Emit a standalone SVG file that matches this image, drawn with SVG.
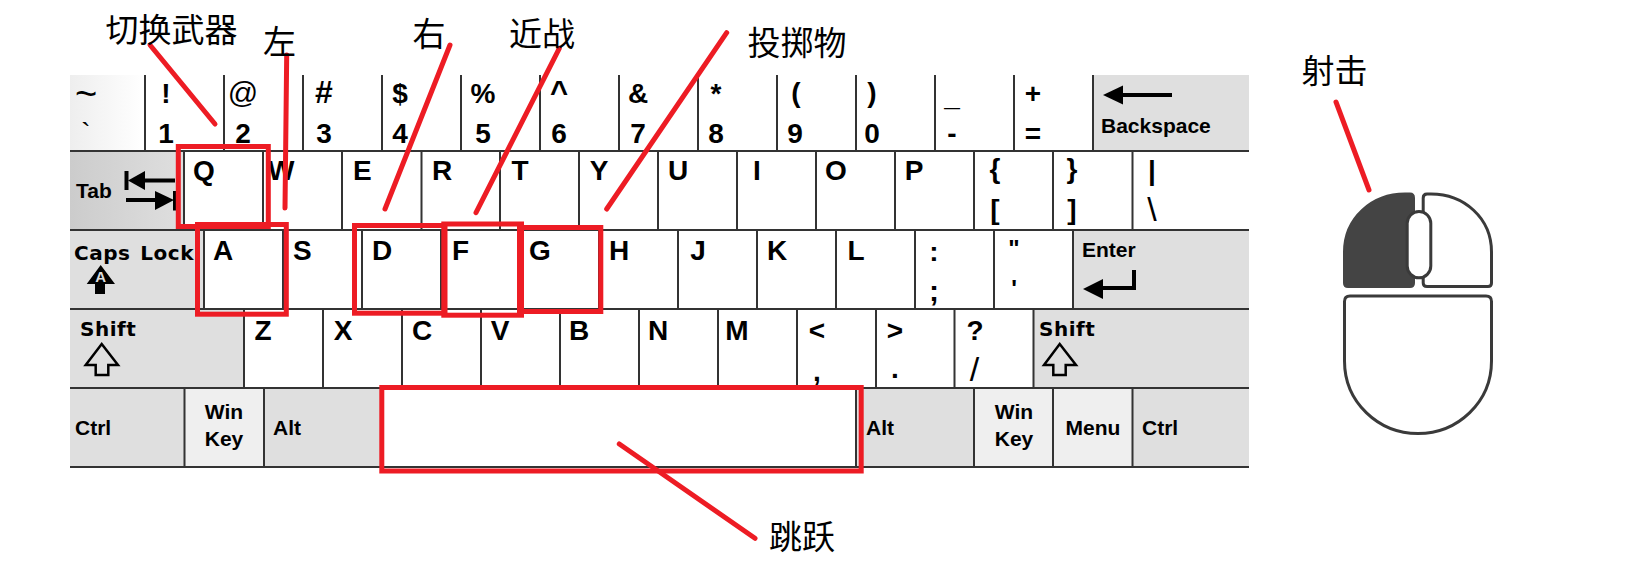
<svg xmlns="http://www.w3.org/2000/svg" width="1650" height="569" viewBox="0 0 1650 569">
<style>
text{font-family:"Liberation Sans",Arial,sans-serif;fill:#000}
.k{font-size:28px;font-weight:700;text-anchor:middle}
.l{font-size:28px;font-weight:700}
.t{font-size:21px;font-weight:700}
.c{text-anchor:middle}
.d{font-family:"DejaVu Sans",sans-serif;font-size:20px;font-weight:700;letter-spacing:.5px}
.thin{font-weight:400}
.zh{font-family:"Noto Sans CJK SC",sans-serif;font-size:33px;text-anchor:middle;fill:#000}
.m{fill:#dfdfdf}
.w{fill:#efefef}
.grid{fill:none;stroke:#333;stroke-width:2}
.red{fill:none;stroke:#ed1c24;stroke-width:5}
.lead{fill:none;stroke:#ed1c24;stroke-width:5;stroke-linecap:round}
.btn{fill:#fff;stroke:#3a3a3a;stroke-width:3;stroke-linejoin:round}
.ar{fill:#000}
.ol{fill:none;stroke:#000;stroke-width:2.500}
.ln{fill:none;stroke:#000;stroke-width:4}
</style>
<defs>
<linearGradient id="gTilde"><stop offset="0" stop-color="#eee"/><stop offset="1" stop-color="#fff"/></linearGradient>
<linearGradient id="gTab"><stop offset="0" stop-color="#ccc"/><stop offset="1" stop-color="#dfdfdf"/></linearGradient>
</defs>
<rect width="1650" height="569" fill="#fff"/>
<g id="keyboard-fills">
<rect x="70" y="75" width="75" height="76" fill="url(#gTilde)"/>
<rect x="1093" y="75" width="156" height="76" class="m"/>
<rect x="70" y="151" width="114" height="79" fill="url(#gTab)"/>
<rect x="70" y="230" width="134" height="79" class="m"/>
<rect x="1073" y="230" width="176" height="79" class="m"/>
<rect x="70" y="309" width="174" height="79" class="m"/>
<rect x="1033" y="309" width="216" height="79" class="m"/>
<rect x="70" y="388" width="114" height="79" class="m"/>
<rect x="184" y="388" width="80" height="79" class="w"/>
<rect x="264" y="388" width="116" height="79" class="m"/>
<rect x="856" y="388" width="118" height="79" class="m"/>
<rect x="974" y="388" width="158" height="79" class="w"/>
<rect x="1133" y="388" width="116" height="79" class="m"/>
</g>
<path id="keyboard-grid" class="grid" d="M70 151H1249M70 230H1249M70 309H1249M70 388H1249M70 467H1249
M145 75V151M224 75V151M303 75V151M382 75V151M461 75V151M540 75V151M619 75V151M698 75V151M777 75V151M856 75V151M935 75V151M1014 75V151M1093 75V151
M184 151V230M263 151V230M342 151V230M421.500 151V230M500 151V230M579 151V230M658 151V230M737 151V230M816 151V230M895 151V230M974 151V230M1053 151V230M1132.500 151V230
M204 230V309M283 230V309M362 230V309M441 230V309M520 230V309M599 230V309M678 230V309M757 230V309M836 230V309M915 230V309M994 230V309M1073 230V309
M244 309V388M323 309V388M402 309V388M481 309V388M560 309V388M639 309V388M718 309V388M797 309V388M876 309V388M954.500 309V388M1033.500 309V388
M184.500 388V467M264 388V467M856 388V467M974 388V467M1053 388V467M1132.500 388V467"/>
<g id="key-tilde"><text x="86" y="107" class="c thin" font-size="38">~</text><text x="86" y="142" class="c thin" font-size="28">`</text></g>
<g id="key-1"><text x="166" y="103" class="k">!</text><text x="166" y="143" class="k">1</text></g>
<g id="key-2"><text x="243" y="103" class="k thin" style="font-size:30px">@</text><text x="243" y="143" class="k">2</text></g>
<g id="key-3"><text x="324" y="103" class="k" style="font-size:32px">#</text><text x="324" y="143" class="k">3</text></g>
<g id="key-4"><text x="400" y="103" class="k">$</text><text x="400" y="143" class="k">4</text></g>
<g id="key-5"><text x="483" y="103" class="k">%</text><text x="483" y="143" class="k">5</text></g>
<g id="key-6"><text x="559" y="103" class="k" style="font-size:31px">^</text><text x="559" y="143" class="k">6</text></g>
<g id="key-7"><text x="638" y="103" class="k">&amp;</text><text x="638" y="143" class="k">7</text></g>
<g id="key-8"><text x="716" y="103" class="k">*</text><text x="716" y="143" class="k">8</text></g>
<g id="key-9"><text x="796" y="102" class="k">(</text><text x="795" y="143" class="k">9</text></g>
<g id="key-0"><text x="872" y="102" class="k">)</text><text x="872" y="143" class="k">0</text></g>
<g id="key-minus"><text x="952" y="106" class="k">_</text><text x="952" y="143" class="k">-</text></g>
<g id="key-equal"><text x="1033" y="103" class="k">+</text><text x="1033" y="143" class="k">=</text></g>
<g id="key-backspace"><path class="ar" d="M1103 95L1123 85.500V104.500Z"/><path class="ln" d="M1120 95H1172"/><text x="1101" y="133" class="t">Backspace</text></g>
<g id="key-tab"><text x="76" y="198" class="t">Tab</text><path class="ar" d="M128 180.500L145 171V190Z"/><path class="ln" d="M126.500 171V190M143 180.500H175M126 200H157M175 191V210.500"/><path class="ar" d="M174 200L155 191V210Z"/></g>
<g id="key-q"><text x="193" y="180" class="l">Q</text></g>
<g id="key-w"><text x="268" y="180" class="l">W</text></g>
<g id="key-e"><text x="353" y="180" class="l">E</text></g>
<g id="key-r"><text x="432" y="180" class="l">R</text></g>
<g id="key-t"><text x="520" y="180" class="k">T</text></g>
<g id="key-y"><text x="599" y="180" class="k">Y</text></g>
<g id="key-u"><text x="678" y="180" class="k">U</text></g>
<g id="key-i"><text x="757" y="180" class="k">I</text></g>
<g id="key-o"><text x="836" y="180" class="k">O</text></g>
<g id="key-p"><text x="914" y="180" class="k">P</text></g>
<g id="key-bracket-l"><text x="995" y="178" class="k">{</text><text x="995" y="218.500" class="k">[</text></g>
<g id="key-bracket-r"><text x="1072" y="178" class="k">}</text><text x="1072" y="218.500" class="k">]</text></g>
<g id="key-backslash"><text x="1152" y="180" class="k">|</text><text x="1152" y="221" class="k thin" style="font-size:34px">\</text></g>
<g id="key-caps"><text x="74" y="260" class="d" word-spacing="2.500">Caps Lock</text><path class="ar" d="M100.700 265L115 284H105V294H95V284H86.700Z"/><text x="100.700" y="281.500" class="c" font-size="15" font-weight="700" style="fill:#ddd">A</text></g>
<g id="key-a"><text x="213" y="260" class="l">A</text></g>
<g id="key-s"><text x="293" y="260" class="l">S</text></g>
<g id="key-d"><text x="372" y="260" class="l">D</text></g>
<g id="key-f"><text x="452" y="260" class="l">F</text></g>
<g id="key-g"><text x="540" y="260" class="k">G</text></g>
<g id="key-h"><text x="619" y="260" class="k">H</text></g>
<g id="key-j"><text x="698" y="260" class="k">J</text></g>
<g id="key-k"><text x="777" y="260" class="k">K</text></g>
<g id="key-l"><text x="856" y="260" class="k">L</text></g>
<g id="key-semicolon"><text x="934" y="261" class="k">:</text><text x="934" y="301" class="k" style="font-size:30px">;</text></g>
<g id="key-quote"><text x="1014" y="257" class="k" style="font-size:24px">"</text><text x="1014" y="297" class="k" style="font-size:24px">'</text></g>
<g id="key-enter"><text x="1082" y="257" class="t">Enter</text><path class="ar" d="M1083 289L1103 279V299Z"/><path class="ln" d="M1100 288H1134V270"/></g>
<g id="key-shift-l"><text x="80" y="336" class="d">Shift</text><path class="ol" d="M101.700 344L118 365H108.300V375H95.700V365H85.700Z"/></g>
<g id="key-z"><text x="263" y="340" class="k">Z</text></g>
<g id="key-x"><text x="343" y="340" class="k">X</text></g>
<g id="key-c"><text x="422" y="340" class="k">C</text></g>
<g id="key-v"><text x="500" y="340" class="k">V</text></g>
<g id="key-b"><text x="579" y="340" class="k">B</text></g>
<g id="key-n"><text x="658" y="340" class="k">N</text></g>
<g id="key-m"><text x="737" y="340" class="k">M</text></g>
<g id="key-comma"><text x="817" y="340" class="k">&lt;</text><text x="817" y="381" class="k">,</text></g>
<g id="key-period"><text x="895" y="340" class="k">&gt;</text><text x="895" y="378" class="k">.</text></g>
<g id="key-slash"><text x="975" y="340" class="k">?</text><text x="974.500" y="381" class="k thin" style="font-size:34px">/</text></g>
<g id="key-shift-r"><text x="1039" y="336" class="d">Shift</text><path class="ol" d="M1059.700 344L1076 365H1065.700V375H1053.300V365H1044Z"/></g>
<g id="key-ctrl-l"><text x="75" y="435" class="t">Ctrl</text></g>
<g id="key-win-l"><text x="224" y="419" class="t c">Win</text><text x="224" y="446" class="t c">Key</text></g>
<g id="key-alt-l"><text x="273" y="435" class="t">Alt</text></g>
<g id="key-alt-r"><text x="866" y="435" class="t">Alt</text></g>
<g id="key-win-r"><text x="1014" y="419" class="t c">Win</text><text x="1014" y="446" class="t c">Key</text></g>
<g id="key-menu"><text x="1093" y="435" class="t c">Menu</text></g>
<g id="key-ctrl-r"><text x="1142" y="435" class="t">Ctrl</text></g>
<g id="highlights">
<rect class="red" x="178.300" y="146.500" width="90" height="80"/>
<rect class="red" x="197.500" y="224.500" width="88.800" height="89.700"/>
<rect class="red" x="354.500" y="225.500" width="90.500" height="87.700"/>
<rect class="red" x="443.800" y="224" width="77.700" height="91.200"/>
<rect class="red" x="519.500" y="227.500" width="81.300" height="84"/>
<rect class="red" x="381.800" y="387.500" width="479.400" height="83.500"/>
</g>
<g id="mouse">
<path id="mouse-left" d="M1344.500 283V252C1344.500 218 1372 194 1405 194H1410Q1413.500 194 1413.500 198V283Q1413.500 286.500 1410 286.500H1348Q1344.500 286.500 1344.500 283Z" fill="#444" stroke="#444" stroke-width="3" stroke-linejoin="round"/>
<path id="mouse-right" class="btn" d="M1491.500 283V252C1491.500 218 1464 194 1431 194H1427Q1423.200 194 1423.200 198V283Q1423.200 286.500 1427 286.500H1488Q1491.500 286.500 1491.500 283Z"/>
<rect id="mouse-wheel" class="btn" x="1407.200" y="211.500" width="23.600" height="66.300" rx="11.800"/>
<path id="mouse-body" class="btn" d="M1350 296H1486Q1491.500 296 1491.500 301.500V361C1491.500 402 1458 433.500 1418 433.500S1344.500 402 1344.500 361V301.500Q1344.500 296 1350 296Z"/>
</g>
<g id="connectors">
<path class="lead" d="M150 45L215 124"/>
<path class="lead" d="M286.700 55L285 208"/>
<path class="lead" d="M450 45L385 209"/>
<path class="lead" d="M559.300 48.300L476 212.700"/>
<path class="lead" d="M726.700 32.700L606.700 209"/>
<path class="lead" d="M619.300 444L755 538.300"/>
<path class="lead" d="M1336 102L1369 190"/>
</g>
<g id="label-switch"><text class="zh" x="171.500" y="42">切换武器</text></g>
<g id="label-left"><text class="zh" x="279.500" y="54">左</text></g>
<g id="label-right"><text class="zh" x="429" y="46">右</text></g>
<g id="label-melee"><text class="zh" x="542" y="46">近战</text></g>
<g id="label-throw"><text class="zh" x="797" y="55">投掷物</text></g>
<g id="label-fire"><text class="zh" x="1334.500" y="83">射击</text></g>
<g id="label-jump"><text class="zh" x="802" y="549">跳跃</text></g>
</svg>
